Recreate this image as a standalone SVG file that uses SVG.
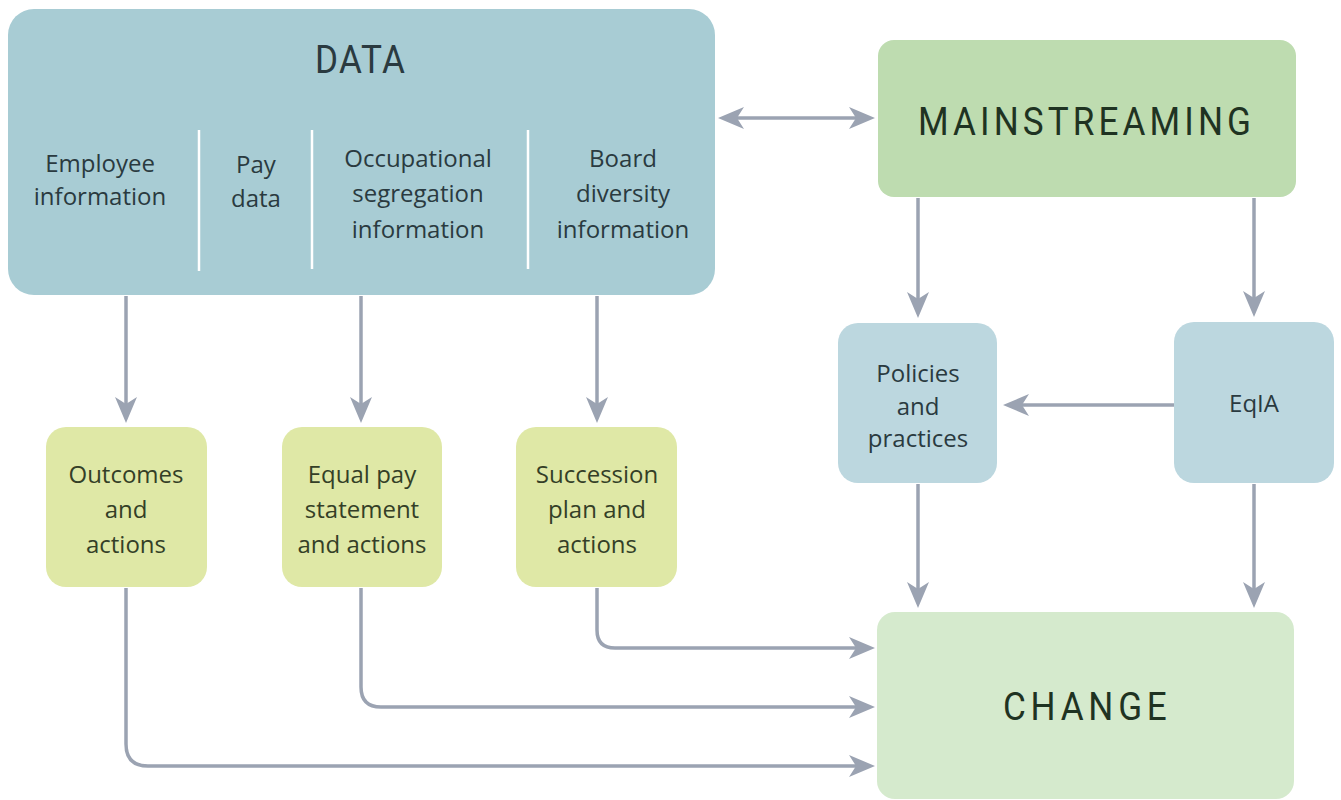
<svg xmlns="http://www.w3.org/2000/svg" width="1341" height="800" viewBox="0 0 1341 800">
  <style>
    .label { font-family: "Open Sans", "Liberation Sans", sans-serif; font-size: 24px; text-anchor: middle; }
    .title { font-family: Roboto, "Liberation Sans", Arial, sans-serif; font-size: 39px; font-weight: 400; }
    .blue-text { fill: #2a3a40; }
    .olive-text { fill: #343f27; }
    .green-text { fill: #1f3322; }
    .conn { fill: none; stroke: #9ba3b2; stroke-width: 3.5; marker-end: url(#arrow); }
    .divider { stroke: #ffffff; stroke-width: 2.5; }
  </style>
  <defs>
    <marker id="arrow" markerUnits="userSpaceOnUse" markerWidth="30" markerHeight="30" refX="12" refY="0" orient="auto-start-reverse" overflow="visible">
      <path d="M26,0 L0,-11 L7,0 L0,11 Z" fill="#9ba3b2"/>
    </marker>
  </defs>

  <rect width="1341" height="800" fill="#ffffff"/>

  <!-- connectors -->
  <g id="connectors">
    <path class="conn" d="M732,118 L861,118" marker-start="url(#arrow)"/>
    <path class="conn" d="M126,296 L126,409"/>
    <path class="conn" d="M361,296 L361,409"/>
    <path class="conn" d="M597,296 L597,409"/>
    <path class="conn" d="M918,198 L918,304"/>
    <path class="conn" d="M1254,198 L1254,303"/>
    <path class="conn" d="M1174,405 L1017,405"/>
    <path class="conn" d="M918,484 L918,594"/>
    <path class="conn" d="M1254,484 L1254,594"/>
    <path class="conn" d="M597,588 L597,630 Q597,648 615,648 L861,648"/>
    <path class="conn" d="M361,588 L361,687 Q361,707 381,707 L861,707"/>
    <path class="conn" d="M126,588 L126,744 Q126,766 148,766 L861,766"/>
  </g>

  <!-- data block -->
  <g id="data">
    <rect x="8" y="9" width="707" height="286" rx="26" fill="#a8ccd4"/>
    <text class="title blue-text" transform="translate(315,73) scale(0.9,1)" textLength="100" lengthAdjust="spacing">DATA</text>
    <line class="divider" x1="199" y1="130" x2="199" y2="271"/>
    <line class="divider" x1="312" y1="130" x2="312" y2="269"/>
    <line class="divider" x1="528" y1="130" x2="528" y2="269"/>
    <text class="label blue-text" x="100" y="172">Employee</text>
    <text class="label blue-text" x="100" y="205">information</text>
    <text class="label blue-text" x="256" y="173">Pay</text>
    <text class="label blue-text" x="256" y="207">data</text>
    <text class="label blue-text" x="418" y="167">Occupational</text>
    <text class="label blue-text" x="418" y="202">segregation</text>
    <text class="label blue-text" x="418" y="238">information</text>
    <text class="label blue-text" x="623" y="167">Board</text>
    <text class="label blue-text" x="623" y="202">diversity</text>
    <text class="label blue-text" x="623" y="238">information</text>
  </g>

  <!-- mainstreaming -->
  <g id="mainstreaming">
    <rect x="878" y="40" width="418" height="157" rx="16" fill="#bedcb0"/>
    <text class="title green-text" transform="translate(918,135) scale(0.9,1)" textLength="370" lengthAdjust="spacing">MAINSTREAMING</text>
  </g>

  <!-- outcome boxes -->
  <g id="outcomes">
    <rect x="46" y="427" width="161" height="160" rx="20" fill="#dfe8a6"/>
    <text class="label olive-text" x="126" y="483">Outcomes</text>
    <text class="label olive-text" x="126" y="518">and</text>
    <text class="label olive-text" x="126" y="553">actions</text>
  </g>
  <g id="equal-pay">
    <rect x="282" y="427" width="160" height="160" rx="20" fill="#dfe8a6"/>
    <text class="label olive-text" x="362" y="483">Equal pay</text>
    <text class="label olive-text" x="362" y="518">statement</text>
    <text class="label olive-text" x="362" y="553">and actions</text>
  </g>
  <g id="succession">
    <rect x="516" y="427" width="161" height="160" rx="20" fill="#dfe8a6"/>
    <text class="label olive-text" x="597" y="483">Succession</text>
    <text class="label olive-text" x="597" y="518">plan and</text>
    <text class="label olive-text" x="597" y="553">actions</text>
  </g>

  <!-- policy boxes -->
  <g id="policies">
    <rect x="838" y="323" width="159" height="160" rx="20" fill="#bcd7df"/>
    <text class="label blue-text" x="918" y="382">Policies</text>
    <text class="label blue-text" x="918" y="415">and</text>
    <text class="label blue-text" x="918" y="447">practices</text>
  </g>
  <g id="eqia">
    <rect x="1174" y="322" width="160" height="161" rx="20" fill="#bcd7df"/>
    <text class="label blue-text" x="1254" y="412">EqIA</text>
  </g>

  <!-- change -->
  <g id="change">
    <rect x="877" y="612" width="417" height="187" rx="18" fill="#d5eacd"/>
    <text class="title green-text" transform="translate(1003,720) scale(0.9,1)" textLength="182" lengthAdjust="spacing">CHANGE</text>
  </g>
</svg>
